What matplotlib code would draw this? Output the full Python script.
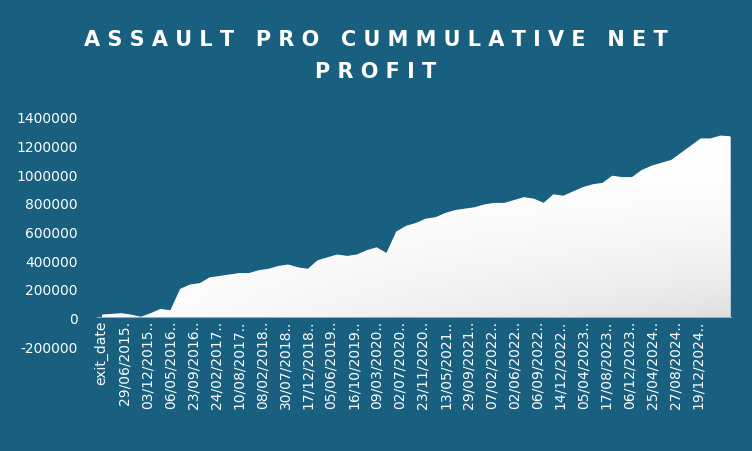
import matplotlib.pyplot as plt
import numpy as np
from matplotlib.patches import PathPatch
from matplotlib.path import Path

tick_labels = ['exit_date', '29/06/2015.', '03/12/2015..', '06/05/2016..', '23/09/2016..',
               '24/02/2017..', '10/08/2017..', '08/02/2018..', '30/07/2018..', '17/12/2018..',
               '05/06/2019..', '16/10/2019..', '09/03/2020..', '02/07/2020..', '23/11/2020..',
               '13/05/2021..', '29/09/2021..', '07/02/2022..', '02/06/2022..', '06/09/2022..',
               '14/12/2022..', '05/04/2023..', '17/08/2023..', '06/12/2023..', '25/04/2024..',
               '27/08/2024..', '19/12/2024..']

# cumulative net profit
profit = [20000, 25000, 30000, 20000, 5000, 30000, 60000, 50000, 200000, 230000,
          240000, 280000, 290000, 300000, 310000, 310000, 330000, 340000, 360000, 370000,
          350000, 340000, 400000, 420000, 440000, 430000, 440000, 470000, 490000, 450000,
          600000, 640000, 660000, 690000, 700000, 730000, 750000, 760000, 770000, 790000,
          800000, 800000, 820000, 840000, 830000, 800000, 860000, 850000, 880000, 910000,
          930000, 940000, 990000, 980000, 980000, 1030000, 1060000, 1080000, 1100000, 1150000,
          1200000, 1250000, 1250000, 1270000, 1265000]

bg = '#185F80'
fig = plt.figure(figsize=(7.52, 4.52), dpi=100, facecolor=bg)
ax = fig.add_axes([0.129, 0.232, 0.845, 0.507], facecolor=bg)

x = np.linspace(0, 27.4, len(profit))
ax.fill_between(x, 0, profit, color='white', lw=0)

# light grey shading toward the bottom right, clipped to the area
verts = [(x[0], 0)] + list(zip(x, profit)) + [(x[-1], 0)]
clip = PathPatch(Path(verts), transform=ax.transData, fc='none', ec='none')
ax.add_patch(clip)
gy, gx = np.mgrid[0:1:200j, 0:1:200j]
shade = np.clip(1 - 0.12 * gx * (gy ** 2), 0, 1)
img = ax.imshow(np.dstack([shade, shade, shade]), extent=[x[0], x[-1], 0, 1270000],
                aspect='auto', zorder=2, origin='upper')
img.set_clip_path(clip)

ax.set_xlim(-0.2, x[-1] + 0.1)
ax.set_ylim(-200000, 1400000)
ax.set_yticks(np.arange(-200000, 1400001, 200000))
ax.set_yticklabels([str(v) for v in range(-200000, 1400001, 200000)])
ax.set_xticks(np.arange(len(tick_labels)))
ax.set_xticklabels(tick_labels, rotation=90)
ax.tick_params(colors='white', labelsize=10, length=0)
ax.tick_params(axis='x', pad=-19)
ax.tick_params(axis='y', pad=14)
for s in ax.spines.values():
    s.set_visible(False)
ax.axhline(0, color='#9ab', lw=0.8, zorder=3)

fig.text(0.5, 0.875, 'A S S A U L T   P R O   C U M M U L A T I V E   N E T\nP R O F I T',
         ha='center', va='center', color='white', fontsize=15, fontweight='bold',
         linespacing=1.75, family='DejaVu Sans')

fig.savefig('out.png', dpi=100, facecolor=bg)
